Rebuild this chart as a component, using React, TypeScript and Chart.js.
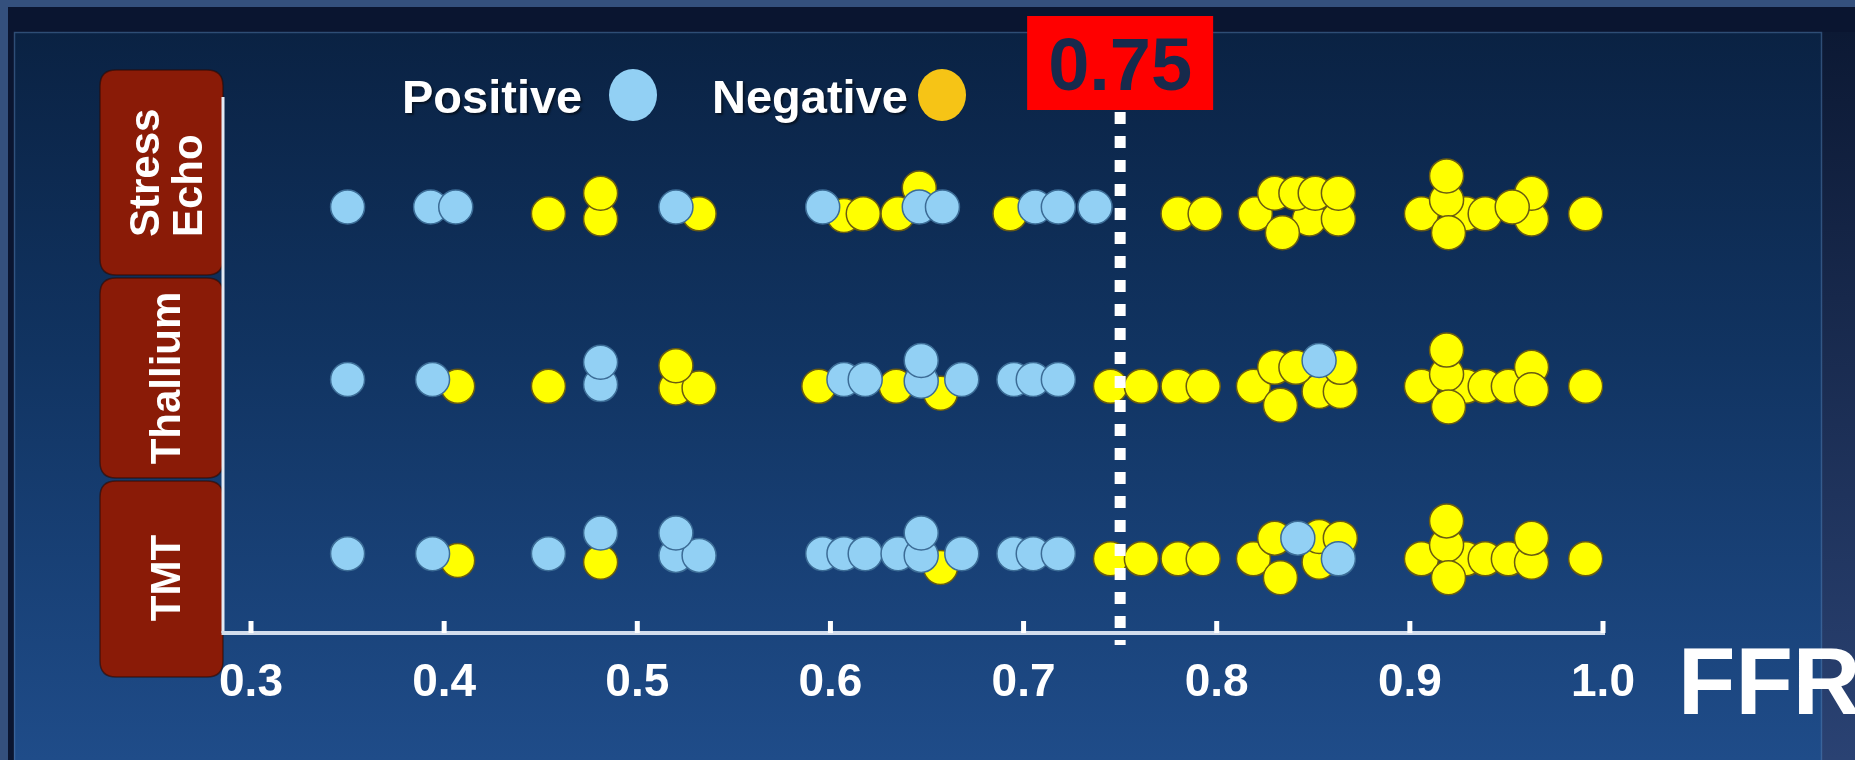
import { useEffect, useRef } from "react";
import { Chart, registerables } from "chart.js";

Chart.register(...registerables);

const W = 1855;
const H = 760;

// ---- data ----
const ROW_NAMES = [["Stress", "Echo"], ["Thallium"], ["TMT"]];
const ROW_LEVELS = [3, 2, 1];
const X_TICKS = [0.3, 0.4, 0.5, 0.6, 0.7, 0.8, 0.9, 1.0];
const X_MIN = 0.2855;
const X_MAX = 1.0;
const Y_MIN = 0.55;
const Y_MAX = 3.64;
const THRESHOLD = 0.75;
const THRESHOLD_LABEL = "0.75";
const AXIS_TITLE = "FFR";
const SERIES_LABELS = ["Positive", "Negative"];

// Stress Echo
const echoPosFFR = [0.350, 0.393, 0.406, 0.520, 0.596, 0.646, 0.658, 0.706, 0.718, 0.737];
const echoPosLift = [0.02, 0.02, 0.02, 0.02, 0.02, 0.02, 0.02, 0.02, 0.02, 0.02];
const echoNegFFR = [0.454, 0.481, 0.481, 0.532, 0.607, 0.617, 0.635, 0.646, 0.693, 0.780, 0.794, 0.820, 0.848, 0.863, 0.830, 0.841, 0.851, 0.863, 0.834, 0.906, 0.929, 0.919, 0.919, 0.920, 0.939, 0.963, 0.963, 0.953, 0.991];
const echoNegLift = [-0.02, -0.05, 0.10, -0.02, -0.03, -0.02, -0.02, 0.13, -0.02, -0.02, -0.02, -0.02, -0.05, -0.05, 0.10, 0.10, 0.10, 0.10, -0.13, -0.02, -0.02, 0.06, 0.20, -0.13, -0.02, -0.05, 0.10, 0.02, -0.02];

// Thallium
const thalPosFFR = [0.350, 0.394, 0.481, 0.481, 0.607, 0.618, 0.647, 0.647, 0.668, 0.695, 0.705, 0.718, 0.853];
const thalPosLift = [0.02, 0.02, -0.01, 0.12, 0.02, 0.02, 0.01, 0.13, 0.02, 0.02, 0.02, 0.02, 0.13];
const thalNegFFR = [0.407, 0.454, 0.520, 0.532, 0.520, 0.594, 0.634, 0.657, 0.745, 0.761, 0.780, 0.793, 0.819, 0.853, 0.864, 0.830, 0.841, 0.864, 0.833, 0.906, 0.929, 0.919, 0.919, 0.920, 0.939, 0.951, 0.963, 0.963, 0.991];
const thalNegLift = [-0.02, -0.02, -0.03, -0.03, 0.10, -0.02, -0.02, -0.06, -0.02, -0.02, -0.02, -0.02, -0.02, -0.05, -0.05, 0.09, 0.09, 0.09, -0.13, -0.02, -0.02, 0.05, 0.19, -0.14, -0.02, -0.02, 0.09, -0.04, -0.02];

// TMT
const tmtPosFFR = [0.350, 0.394, 0.454, 0.481, 0.520, 0.532, 0.520, 0.596, 0.607, 0.618, 0.635, 0.647, 0.647, 0.668, 0.695, 0.705, 0.718, 0.842, 0.863];
const tmtPosLift = [0.01, 0.01, 0.01, 0.13, 0.0, 0.0, 0.13, 0.01, 0.01, 0.01, 0.01, 0.0, 0.13, 0.01, 0.01, 0.01, 0.01, 0.10, -0.02];
const tmtNegFFR = [0.407, 0.481, 0.657, 0.745, 0.761, 0.780, 0.793, 0.819, 0.853, 0.853, 0.830, 0.864, 0.833, 0.906, 0.929, 0.919, 0.919, 0.920, 0.939, 0.951, 0.963, 0.963, 0.991];
const tmtNegLift = [-0.03, -0.04, -0.07, -0.02, -0.02, -0.02, -0.02, -0.02, -0.04, 0.11, 0.10, 0.10, -0.13, -0.02, -0.02, 0.06, 0.20, -0.13, -0.02, -0.02, -0.04, 0.10, -0.02];

// ---- styles ----
const FONT = "'Liberation Sans', Arial, sans-serif";
const POS_FILL = "#92d0f4";
const POS_BORDER = "#3c6c96";
const NEG_FILL = "#ffff00";
const NEG_BORDER = "#6a5c10";
const LEGEND_COLORS = ["#92d0f4", "#f6c416"];

const rowsPos: [number[], number[]][] = [
  [echoPosFFR, echoPosLift],
  [thalPosFFR, thalPosLift],
  [tmtPosFFR, tmtPosLift],
];
const rowsNeg: [number[], number[]][] = [
  [echoNegFFR, echoNegLift],
  [thalNegFFR, thalNegLift],
  [tmtNegFFR, tmtNegLift],
];

const buildPoints = (rows: [number[], number[]][]) =>
  rows.flatMap(([ffr, lift], i) => ffr.map((x, j) => ({ x, y: ROW_LEVELS[i] + lift[j] })));

function roundRect(ctx: CanvasRenderingContext2D, x: number, y: number, w: number, h: number, r: number) {
  ctx.beginPath();
  ctx.moveTo(x + r, y);
  ctx.lineTo(x + w - r, y);
  ctx.quadraticCurveTo(x + w, y, x + w, y + r);
  ctx.lineTo(x + w, y + h - r);
  ctx.quadraticCurveTo(x + w, y + h, x + w - r, y + h);
  ctx.lineTo(x + r, y + h);
  ctx.quadraticCurveTo(x, y + h, x, y + h - r);
  ctx.lineTo(x, y + r);
  ctx.quadraticCurveTo(x, y, x + r, y);
  ctx.closePath();
}

const decorPlugin = {
  id: "decor",
  beforeDraw(chart: any) {
    const ctx: CanvasRenderingContext2D = chart.ctx;
    ctx.save();
    // slide frame
    ctx.fillStyle = "#34507d";
    ctx.fillRect(0, 0, W, H);
    ctx.fillStyle = "#0a1530";
    ctx.fillRect(8, 7, W - 8, H - 7);
    let g = ctx.createLinearGradient(0, 32, 0, H);
    g.addColorStop(0, "#0c1934");
    g.addColorStop(1, "#2a4273");
    ctx.fillStyle = g;
    ctx.fillRect(1822, 32, W - 1822, H - 32);
    // panel
    g = ctx.createLinearGradient(0, 32, 0, H);
    g.addColorStop(0, "#0a2243");
    g.addColorStop(0.45, "#113462");
    g.addColorStop(1, "#1f4c89");
    ctx.fillStyle = g;
    ctx.fillRect(14, 32, 1808, H - 32);
    ctx.strokeStyle = "rgba(90,130,180,0.45)";
    ctx.lineWidth = 1.5;
    ctx.strokeRect(14.5, 32.5, 1807, H - 18);

    // row label boxes
    const boxes = [
      [70, 275],
      [278, 478],
      [481, 677],
    ];
    boxes.forEach(([t, b]) => {
      ctx.fillStyle = "#8a1b07";
      roundRect(ctx, 100, t, 123, b - t, 16);
      ctx.fill();
      ctx.strokeStyle = "rgba(40,10,5,0.6)";
      ctx.lineWidth = 1.5;
      ctx.stroke();
    });
    ctx.fillStyle = "#ffffff";
    ctx.font = `bold 42px ${FONT}`;
    ctx.textBaseline = "alphabetic";
    const capH = 42 * 0.716;
    // Stress / Echo (start-aligned at bottom)
    [144, 187].forEach((cx, k) => {
      ctx.save();
      ctx.translate(cx + capH / 2, 237);
      ctx.rotate(-Math.PI / 2);
      ctx.textAlign = "left";
      ctx.fillText(ROW_NAMES[0][k], 0, 0);
      ctx.restore();
    });
    [
      [ROW_NAMES[1][0], 378],
      [ROW_NAMES[2][0], 578],
    ].forEach(([txt, cy]) => {
      ctx.save();
      ctx.translate(165 + capH / 2, cy as number);
      ctx.rotate(-Math.PI / 2);
      ctx.textAlign = "center";
      ctx.fillText(txt as string, 0, 0);
      ctx.restore();
    });
    ctx.restore();
  },
  beforeDatasetsDraw(chart: any) {
    const ctx: CanvasRenderingContext2D = chart.ctx;
    const { left, right, top, bottom } = chart.chartArea;
    const xs = chart.scales.x;
    ctx.save();
    // y axis line
    ctx.strokeStyle = "#e3eaf4";
    ctx.lineWidth = 3;
    ctx.beginPath();
    ctx.moveTo(left, top - 3);
    ctx.lineTo(left, bottom);
    ctx.stroke();
    // x axis line
    ctx.strokeStyle = "#d2dded";
    ctx.lineWidth = 4;
    ctx.beginPath();
    ctx.moveTo(left - 1.5, bottom);
    ctx.lineTo(right + 2, bottom);
    ctx.stroke();
    // inward ticks
    ctx.fillStyle = "#ffffff";
    X_TICKS.forEach((v) => {
      const px = xs.getPixelForValue(v);
      ctx.fillRect(px - 2.5, bottom - 12, 5, 12);
    });
    ctx.restore();
  },
  afterDatasetsDraw(chart: any) {
    const ctx: CanvasRenderingContext2D = chart.ctx;
    const xs = chart.scales.x;
    const tx = xs.getPixelForValue(THRESHOLD);
    ctx.save();
    // threshold dashed line
    ctx.strokeStyle = "#ffffff";
    ctx.lineWidth = 11;
    ctx.setLineDash([12, 12]);
    ctx.beginPath();
    ctx.moveTo(tx, 112);
    ctx.lineTo(tx, 645);
    ctx.stroke();
    ctx.setLineDash([]);
    // threshold label
    ctx.fillStyle = "#ff0000";
    ctx.fillRect(tx - 93, 16, 186, 94);
    ctx.fillStyle = "#172a4c";
    ctx.font = `bold 74px ${FONT}`;
    ctx.textAlign = "center";
    ctx.textBaseline = "alphabetic";
    ctx.fillText(THRESHOLD_LABEL, tx, 90);

    // legend
    ctx.font = `bold 47px ${FONT}`;
    ctx.textAlign = "left";
    ctx.shadowColor = "rgba(0,0,0,0.5)";
    ctx.shadowOffsetX = 2;
    ctx.shadowOffsetY = 2;
    ctx.shadowBlur = 2;
    const legendText = [402, 712];
    const legendDot = [633, 942];
    SERIES_LABELS.forEach((lab, i) => {
      ctx.fillStyle = "#ffffff";
      ctx.fillText(lab, legendText[i], 113);
    });
    ctx.shadowColor = "transparent";
    SERIES_LABELS.forEach((_, i) => {
      ctx.fillStyle = LEGEND_COLORS[i];
      ctx.beginPath();
      ctx.ellipse(legendDot[i], 95, 24, 26, 0, 0, Math.PI * 2);
      ctx.fill();
    });

    // axis title
    ctx.fillStyle = "#ffffff";
    ctx.font = `bold 94px ${FONT}`;
    ctx.textAlign = "left";
    ctx.fillText(AXIS_TITLE, 1678, 714);
    ctx.restore();
  },
};

export default function App() {
  const ref = useRef<HTMLCanvasElement | null>(null);

  useEffect(() => {
    if (!ref.current) return;
    const chart = new Chart(ref.current, {
      type: "scatter",
      data: {
        datasets: [
          {
            label: SERIES_LABELS[0],
            data: buildPoints(rowsPos),
            backgroundColor: POS_FILL,
            borderColor: POS_BORDER,
            borderWidth: 1.5,
            pointRadius: 17,
            pointHoverRadius: 17,
            order: 0,
          },
          {
            label: SERIES_LABELS[1],
            data: buildPoints(rowsNeg),
            backgroundColor: NEG_FILL,
            borderColor: NEG_BORDER,
            borderWidth: 1.5,
            pointRadius: 17,
            pointHoverRadius: 17,
            order: 1,
          },
        ],
      },
      options: {
        responsive: false,
        animation: false,
        devicePixelRatio: 1,
        layout: { padding: { left: 223, right: 252, top: 100, bottom: 47 } },
        plugins: {
          legend: { display: false },
          tooltip: { enabled: false },
        },
        events: [],
        scales: {
          x: {
            type: "linear",
            min: X_MIN,
            max: X_MAX,
            afterBuildTicks: (scale: any) => {
              scale.ticks = X_TICKS.map((value) => ({ value }));
            },
            afterFit: (scale: any) => {
              scale.height = 80;
            },
            grid: { display: false, drawTicks: false },
            border: { display: false },
            ticks: {
              color: "#ffffff",
              padding: 23,
              autoSkip: false,
              maxRotation: 0,
              font: { family: FONT, size: 46, weight: "bold" },
              callback: (v: any) => Number(v).toFixed(1),
            },
          },
          y: {
            type: "linear",
            min: Y_MIN,
            max: Y_MAX,
            display: false,
          },
        },
      },
      plugins: [decorPlugin],
    } as any);
    return () => chart.destroy();
  }, []);

  return (
    <div style={{ position: "absolute", left: 0, top: 0, width: W, height: H }}>
      <canvas ref={ref} width={W} height={H} style={{ display: "block", width: W, height: H }} />
    </div>
  );
}
